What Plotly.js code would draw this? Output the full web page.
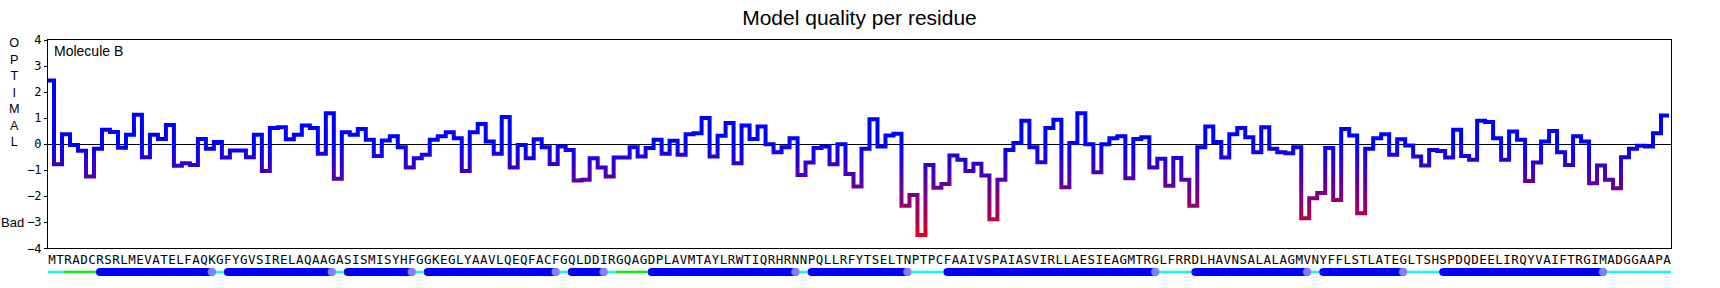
<!DOCTYPE html>
<html>
<head>
<meta charset="utf-8">
<script src="https://cdn.plot.ly/plotly-3.0.1.min.js"></script>
<style>
html,body{margin:0;padding:0;background:#ffffff;}
#chart{width:1720px;height:288px;}
</style>
</head>
<body>
<div id="chart"></div>
<script>
// ---------------- data ----------------
const sequence = "MTRADCRSRLMEVATELFAQKGFYGVSIRELAQAAGASISMISYHFGGKEGLYAAVLQEQFACFGQLDDIRGQAGDPLAVMTAYLRWTIQRHRNNPQLLRFYTSELTNPTPCFAAIVSPAIASVIRLLAESIEAGMTRGLFRRDLHAVNSALALAGMVNYFFLSTLATEGLTSHSPDQDEELIRQYVAIFTRGIMADGGAAPA";
const residueLetters = sequence.split("");
const residueNumbers = residueLetters.map((c, i) => i + 1);

const quality = [
  2.44, -0.77, 0.38, -0.03, -0.25, -1.24, -0.18, 0.55, 0.47, -0.14,
  0.36, 1.13, -0.50, 0.36, 0.20, 0.74, -0.83, -0.73, -0.80, 0.20,
  -0.18, 0.08, -0.51, -0.24, -0.24, -0.50, 0.36, -1.03, 0.62, 0.65,
  0.19, 0.36, 0.72, 0.62, -0.37, 1.19, -1.33, 0.46, 0.36, 0.58,
  0.17, -0.45, 0.14, 0.30, -0.12, -0.90, -0.54, -0.41, 0.17, 0.30,
  0.46, 0.23, -1.03, 0.46, 0.77, 0.10, -0.37, 1.04, -0.90, -0.03,
  -0.54, 0.19, -0.12, -0.76, -0.09, -0.22, -1.40, -1.37, -0.54, -0.90,
  -1.24, -0.51, -0.51, -0.12, -0.47, -0.15, 0.17, -0.37, 0.13, -0.41,
  0.38, 0.42, 1.00, -0.47, 0.32, 0.81, -0.73, 0.72, 0.20, 0.68,
  0.00, -0.31, -0.12, 0.23, -1.18, -0.70, -0.15, -0.09, -0.77, 0.00,
  -1.15, -1.63, -0.18, 0.96, -0.09, 0.33, 0.40, -2.37, -1.95, -3.49,
  -0.80, -1.67, -1.53, -0.44, -0.60, -1.03, -0.75, -1.20, -2.88, -1.37,
  -0.22, 0.04, 0.90, -0.12, -0.69, 0.62, 0.94, -1.65, 0.04, 1.19,
  0.00, -1.08, 0.00, 0.23, 0.30, -1.31, 0.20, 0.27, -0.90, -0.56,
  -1.60, -0.53, -1.37, -2.37, -0.12, 0.68, 0.08, -0.51, 0.38, 0.62,
  0.27, -0.31, 0.65, -0.18, -0.31, -0.35, -0.12, -2.85, -2.08, -1.88,
  -0.15, -2.14, 0.58, 0.33, -2.65, -0.18, 0.23, 0.38, -0.41, 0.19,
  -0.05, -0.47, -0.82, -0.22, -0.26, -0.51, 0.55, -0.45, -0.60, 0.90,
  0.85, 0.23, -0.60, 0.49, 0.17, -1.41, -0.70, 0.10, 0.51, -0.31,
  -0.80, 0.30, 0.10, -1.50, -0.82, -1.37, -1.69, -0.50, -0.18, -0.06,
  -0.09, 0.42, 1.10
];

// secondary structure (residue numbers)
const helixStart = [7, 23, 38, 48, 66, 76, 96, 113, 144, 160, 175];
const helixEnd   = [21, 36, 46, 64, 70, 94, 108, 139, 158, 170, 195];
const coilStart  = [1, 22, 37, 47, 65, 71, 95, 109, 140, 159, 171, 196];
const coilEnd    = [2, 22, 37, 47, 65, 71, 95, 112, 143, 159, 174, 203];
const bendStart  = [3, 72];
const bendEnd    = [6, 75];

const yTickVals = [-4, -3, -2, -1, 0, 1, 2, 3, 4];

// ---------------- styles ----------------
const LINE_SHIFT = -0.25;
const BLUE = "rgb(0,0,255)";
const RED = "rgb(255,0,0)";

// ---------------- traces ----------------
const qx = residueNumbers.map(r => r - 0.5 + LINE_SHIFT);
qx.push(residueNumbers.length + 0.5 + LINE_SHIFT);
const qy = quality.slice();
qy.push(quality[quality.length - 1]);

function segs(starts, ends, padA, padB) {
  const x = [], y = [];
  starts.forEach((s, i) => { x.push(s + padA, ends[i] + padB, null); y.push(0, 0, null); });
  return {x, y};
}

const coilSeg = segs(coilStart, coilEnd, -0.5, 0.5);
const bendSeg = segs(bendStart, bendEnd, -0.5, 0.5);
const helixSeg = segs(helixStart, helixEnd, 0, 0);

const traces = [
  {x: qx, y: qy, type: "scatter", mode: "lines", line: {shape: "hv", width: 4, color: BLUE},
   xaxis: "x", yaxis: "y", hoverinfo: "skip"},
  {x: coilSeg.x, y: coilSeg.y, type: "scatter", mode: "lines", line: {color: "rgb(0,255,255)", width: 2.3},
   xaxis: "x", yaxis: "y2", hoverinfo: "skip"},
  {x: bendSeg.x, y: bendSeg.y, type: "scatter", mode: "lines", line: {color: "rgb(0,238,0)", width: 2.3},
   xaxis: "x", yaxis: "y2", hoverinfo: "skip"},
  {x: helixSeg.x, y: helixSeg.y, type: "scatter", mode: "lines", line: {color: BLUE, width: 8},
   xaxis: "x", yaxis: "y2", hoverinfo: "skip"},
  {x: helixStart, y: helixStart.map(() => 0), type: "scatter", mode: "markers",
   marker: {color: BLUE, size: 8, line: {width: 0}}, xaxis: "x", yaxis: "y2", hoverinfo: "skip", cliponaxis: false},
  {x: helixEnd, y: helixEnd.map(() => 0), type: "scatter", mode: "markers",
   marker: {color: "rgb(128,128,255)", size: 8.5, line: {width: 0}}, xaxis: "x", yaxis: "y2", hoverinfo: "skip", cliponaxis: false}
];

const layout = {
  width: 1720, height: 288,
  margin: {l: 48, r: 49, t: 40, b: 0, pad: 0},
  paper_bgcolor: "#ffffff", plot_bgcolor: "#ffffff",
  showlegend: false,
  title: {text: "Model quality per residue",
          font: {family: "Liberation Sans, Arial, sans-serif", size: 21, color: "#000000"},
          x: 0.5, xref: "paper", xanchor: "center", y: 0.94, yref: "container", yanchor: "middle"},
  xaxis: {range: [0.5, residueNumbers.length + 0.5], tickmode: "array", tickvals: residueNumbers,
          ticktext: residueLetters, tickangle: 0, ticks: "",
          tickfont: {family: "DejaVu Sans Mono, monospace", size: 12.5, color: "#000000"},
          showline: true, linecolor: "#000000", linewidth: 1, mirror: true,
          showgrid: false, zeroline: false, anchor: "y", fixedrange: true},
  yaxis: {domain: [0.16, 1], range: [-4, 4], tickmode: "array", tickvals: yTickVals,
          ticks: "outside", ticklen: 3, tickcolor: "#000000", tickwidth: 1,
          tickfont: {family: "DejaVu Sans Mono, monospace", size: 12, color: "#000000"},
          showline: true, linecolor: "#000000", linewidth: 1, mirror: true, showgrid: false,
          zeroline: true, zerolinecolor: "#000000", zerolinewidth: 1, fixedrange: true},
  yaxis2: {domain: [0.02, 0.11], range: [-1, 1], visible: false, fixedrange: true, anchor: "x"},
  annotations: [
    {text: "Molecule B", xref: "paper", yref: "paper", x: 0, y: 1, xanchor: "left", yanchor: "top",
     xshift: 4, yshift: -1, showarrow: false,
     font: {family: "Liberation Sans, Arial, sans-serif", size: 14, color: "#000000"}},
    {text: "O<br>P<br>T<br>I<br>M<br>A<br>L", xref: "paper", yref: "y", x: -0.0206, y: 1.97,
     xanchor: "center", yanchor: "middle", showarrow: false,
     font: {family: "Liberation Sans, Arial, sans-serif", size: 12.7, color: "#000000"}},
    {text: "Bad", xref: "paper", yref: "y", x: -0.0219, y: -3, xanchor: "center", yanchor: "middle",
     showarrow: false, font: {family: "Liberation Sans, Arial, sans-serif", size: 13, color: "#000000"}}
  ]
};

function applyGradient(gd) {
  const ya = gd._fullLayout.yaxis;
  const svg = gd.querySelector("svg.main-svg");
  if (!svg) return;
  let defs = svg.querySelector("defs");
  if (!defs) { defs = document.createElementNS("http://www.w3.org/2000/svg", "defs"); svg.insertBefore(defs, svg.firstChild); }
  let grad = svg.querySelector("#qualityGradient");
  if (!grad) {
    grad = document.createElementNS("http://www.w3.org/2000/svg", "linearGradient");
    grad.setAttribute("id", "qualityGradient");
    grad.setAttribute("gradientUnits", "userSpaceOnUse");
    const s1 = document.createElementNS("http://www.w3.org/2000/svg", "stop");
    s1.setAttribute("offset", "0"); s1.setAttribute("stop-color", BLUE);
    const s2 = document.createElementNS("http://www.w3.org/2000/svg", "stop");
    s2.setAttribute("offset", "1"); s2.setAttribute("stop-color", RED);
    grad.appendChild(s1); grad.appendChild(s2);
    defs.appendChild(grad);
  }
  grad.setAttribute("x1", 0); grad.setAttribute("x2", 0);
  grad.setAttribute("y1", ya.l2p(0)); grad.setAttribute("y2", ya.l2p(-4));
  const path = gd.querySelector(".subplot.xy .scatterlayer .trace path.js-line");
  if (path) path.style.stroke = "url(#qualityGradient)";
}

const gd = document.getElementById("chart");
Plotly.newPlot(gd, traces, layout, {displayModeBar: false, staticPlot: true}).then(() => {
  applyGradient(gd);
  gd.on("plotly_afterplot", () => applyGradient(gd));
});
</script>
</body>
</html>
